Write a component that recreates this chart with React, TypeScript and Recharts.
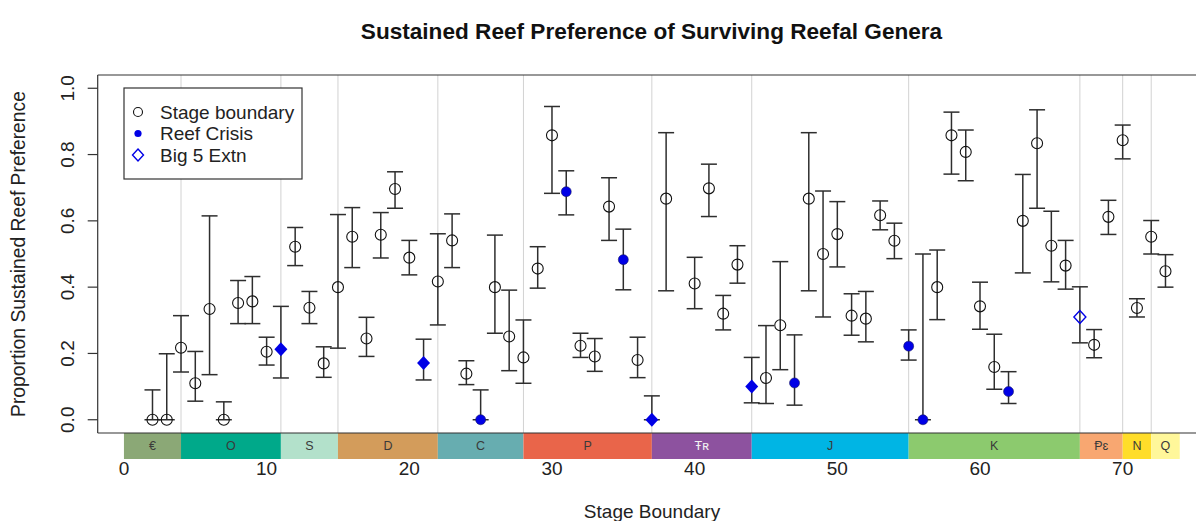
import React from 'react';
import { ComposedChart, Scatter, XAxis, YAxis, ErrorBar, ReferenceLine, ReferenceArea } from 'recharts';

const stageX = [2, 3, 4, 5, 6, 7, 8, 9, 10, 11, 12, 13, 14, 15, 16, 17, 18, 19, 20, 21, 22, 23, 24, 25, 26, 27, 28, 29, 30, 31, 32, 33, 34, 35, 36, 37, 38, 40, 41, 42, 43, 44, 45, 46, 47, 48, 49, 50, 51, 52, 53, 54, 55, 56, 57, 58, 59, 60, 61, 62, 63, 64, 65, 66, 67, 68, 69, 70, 71, 72, 73];
const preference = [0, 0, 0.217, 0.11, 0.334, 0, 0.352, 0.357, 0.205, 0.213, 0.522, 0.338, 0.17, 0.4, 0.552, 0.245, 0.558, 0.696, 0.489, 0.171, 0.417, 0.541, 0.139, 0, 0.4, 0.251, 0.188, 0.456, 0.858, 0.688, 0.223, 0.191, 0.643, 0.483, 0.18, 0, 0.667, 0.411, 0.698, 0.32, 0.468, 0.1, 0.126, 0.285, 0.111, 0.667, 0.5, 0.56, 0.314, 0.305, 0.617, 0.54, 0.222, 0, 0.4, 0.858, 0.808, 0.342, 0.159, 0.085, 0.6, 0.834, 0.525, 0.465, 0.31, 0.226, 0.612, 0.843, 0.337, 0.552, 0.448];
const lowerCI = [0, 0, 0.144, 0.056, 0.136, 0, 0.29, 0.29, 0.165, 0.126, 0.465, 0.29, 0.128, 0.216, 0.459, 0.191, 0.488, 0.638, 0.437, 0.12, 0.286, 0.459, 0.106, 0, 0.261, 0.148, 0.11, 0.397, 0.683, 0.618, 0.188, 0.146, 0.541, 0.392, 0.127, 0, 0.389, 0.335, 0.613, 0.271, 0.412, 0.051, 0.049, 0.151, 0.044, 0.389, 0.31, 0.461, 0.255, 0.235, 0.573, 0.486, 0.18, 0, 0.302, 0.741, 0.721, 0.273, 0.092, 0.049, 0.443, 0.638, 0.416, 0.394, 0.232, 0.187, 0.559, 0.787, 0.31, 0.5, 0.4];
const upperCI = [0.09, 0.199, 0.314, 0.206, 0.615, 0.054, 0.42, 0.432, 0.249, 0.342, 0.58, 0.387, 0.22, 0.619, 0.64, 0.309, 0.625, 0.748, 0.541, 0.243, 0.561, 0.621, 0.178, 0.09, 0.557, 0.391, 0.301, 0.522, 0.945, 0.751, 0.261, 0.245, 0.73, 0.575, 0.249, 0.072, 0.866, 0.49, 0.771, 0.375, 0.525, 0.188, 0.284, 0.477, 0.256, 0.866, 0.69, 0.658, 0.38, 0.387, 0.66, 0.593, 0.271, 0.5, 0.512, 0.928, 0.874, 0.415, 0.258, 0.145, 0.74, 0.935, 0.629, 0.541, 0.401, 0.272, 0.662, 0.889, 0.365, 0.601, 0.498];
const reefCrisisX = [11, 21, 25, 31, 35, 37, 44, 47, 55, 56, 62];
const bigFiveX = [11, 21, 37, 44, 67];

const periodNames = ['€', 'O', 'S', 'D', 'C', 'P', 'Ŧʀ', 'J', 'K', 'Ᵽɛ', 'N', 'Q'];
const periodStart = [0, 4, 11, 15, 22, 28, 37, 44, 55, 67, 70, 72];
const periodEnd = [4, 11, 15, 22, 28, 37, 44, 55, 67, 70, 72, 74];
const periodColors = ['#8BA876', '#00A98A', '#B3E1CB', '#D39C5B', '#67ADB0', '#E9654A', '#8D529F', '#00B5E4', '#8CCA6E', '#F8A771', '#FFDD2A', '#FFF79A'];
const periodTextColors = ['#3a3a3a', '#3a3a3a', '#3a3a3a', '#3a3a3a', '#3a3a3a', '#3a3a3a', '#f2f2f2', '#3a3a3a', '#3a3a3a', '#3a3a3a', '#3a3a3a', '#3a3a3a'];
const boundaryLines = [4, 11, 15, 22, 28, 37, 44, 55, 67, 70, 72];
const xTicks = [0, 10, 20, 30, 40, 50, 60, 70];
const yTicks = [0, 0.2, 0.4, 0.6, 0.8, 1.0];

const FONT = '"Liberation Sans", Arial, Helvetica, sans-serif';
const BLUE = '#0000E6';
const INK = '#333333';

const rows = stageX.map((x, i) => ({
  x,
  y: preference[i],
  err: [preference[i] - lowerCI[i], upperCI[i] - preference[i]],
  crisis: reefCrisisX.includes(x),
  big5: bigFiveX.includes(x),
}));
const stageOnly = rows.filter(r => !r.crisis && !r.big5);
const crisisOnly = rows.filter(r => r.crisis && !r.big5);
const crisisBig5 = rows.filter(r => r.crisis && r.big5);
const big5Only = rows.filter(r => !r.crisis && r.big5);

const OpenCircle = (p: any) => <circle cx={p.cx} cy={p.cy} r={5.5} fill="none" stroke="#111" strokeWidth={1.1} />;
const FilledCircle = (p: any) => <circle cx={p.cx} cy={p.cy} r={5} fill={BLUE} stroke="#1a1a66" strokeWidth={0.6} />;
const FilledDiamond = (p: any) => (
  <polygon points={`${p.cx},${p.cy - 7} ${p.cx + 6.5},${p.cy} ${p.cx},${p.cy + 7} ${p.cx - 6.5},${p.cy}`} fill={BLUE} />
);
const OpenDiamond = (p: any) => (
  <polygon points={`${p.cx},${p.cy - 6.5} ${p.cx + 6},${p.cy} ${p.cx},${p.cy + 6.5} ${p.cx - 6},${p.cy}`} fill="none" stroke={BLUE} strokeWidth={1.4} />
);
const NoMark = () => <g />;

const XTick = (p: any) => (
  <text x={p.x} y={475} textAnchor="middle" fontSize={19} fontFamily={FONT} fill="#222">{p.payload.value}</text>
);
const YTick = (p: any) => (
  <text x={74} y={p.y} transform={`rotate(-90 74 ${p.y})`} textAnchor="middle" fontSize={19} fontFamily={FONT} fill="#222">
    {Number(p.payload.value).toFixed(1)}
  </text>
);

const PeriodText = (p: any) => {
  const vb = p.viewBox || {};
  const cx = vb.x + vb.width / 2;
  const cy = vb.y + vb.height / 2 + 4.5;
  return (
    <text x={cx} y={cy} textAnchor="middle" fontSize={12.5} fontFamily={FONT} fill={p.color}>{p.name}</text>
  );
};

export default function App() {
  return (
    <div style={{ position: 'absolute', left: 0, top: 0, width: 1196, height: 521, overflow: 'hidden', background: '#fff' }}>
      <ComposedChart width={1220} height={521} margin={{ top: 75, right: 14, bottom: 0, left: 37.7 }}>
        <XAxis
          type="number"
          dataKey="x"
          domain={[-1.84, 75.84]}
          ticks={xTicks}
          interval={0}
          allowDataOverflow
          axisLine={false}
          tickLine={false}
          height={88}
          tick={XTick}
        />
        <YAxis
          type="number"
          dataKey="y"
          domain={[-0.04, 1.04]}
          ticks={yTicks}
          interval={0}
          allowDataOverflow
          width={60}
          tickSize={10}
          axisLine={{ stroke: INK, strokeWidth: 1.2 }}
          tickLine={{ stroke: INK, strokeWidth: 1.2 }}
          tick={YTick}
        />
        {boundaryLines.map(b => (
          <ReferenceLine key={'b' + b} x={b} stroke="#d2d2d2" strokeWidth={1} />
        ))}
        {periodNames.map((n, i) => (
          <ReferenceArea
            key={'p' + i}
            x1={periodStart[i]}
            x2={periodEnd[i]}
            y1={-0.1184}
            y2={-0.04}
            ifOverflow="visible"
            fill={periodColors[i]}
            fillOpacity={1}
            stroke="none"
            label={<PeriodText name={n} color={periodTextColors[i]} />}
          />
        ))}
        <ReferenceLine y={1.04} stroke={INK} strokeWidth={1.2} />
        <ReferenceLine y={-0.04} stroke={INK} strokeWidth={1.2} />
        <Scatter data={stageOnly} shape={OpenCircle} isAnimationActive={false} />
        <Scatter data={crisisOnly} shape={FilledCircle} isAnimationActive={false} />
        <Scatter data={crisisBig5} shape={FilledDiamond} isAnimationActive={false} />
        <Scatter data={big5Only} shape={OpenDiamond} isAnimationActive={false} />
        <Scatter data={rows} shape={NoMark} isAnimationActive={false}>
          <ErrorBar dataKey="err" direction="y" width={8} stroke="#2e2e2e" strokeWidth={1.5} isAnimationActive={false} />
        </Scatter>
      </ComposedChart>
      <svg width={1196} height={521} style={{ position: 'absolute', left: 0, top: 0, pointerEvents: 'none' }} fontFamily={FONT}>
        <text x={651.5} y={39} textAnchor="middle" fontSize={22.6} fontWeight="bold" fill="#111">
          Sustained Reef Preference of Surviving Reefal Genera
        </text>
        <text x={25} y={254} transform="rotate(-90 25 254)" textAnchor="middle" fontSize={19.3} fill="#222">
          Proportion Sustained Reef Preference
        </text>
        <text x={652} y={518} textAnchor="middle" fontSize={19} fill="#222">Stage Boundary</text>
        <g>
          <rect x={124} y={88} width={178} height={91} fill="#fff" stroke={INK} strokeWidth={1.2} />
          <circle cx={138} cy={112} r={4.5} fill="none" stroke="#111" strokeWidth={1.1} />
          <text x={160} y={118.5} fontSize={19} fill="#222">Stage boundary</text>
          <circle cx={138} cy={133.5} r={3.6} fill={BLUE} />
          <text x={160} y={140} fontSize={19} fill="#222">Reef Crisis</text>
          <polygon points="138,149 143.5,155 138,161 132.5,155" fill="none" stroke={BLUE} strokeWidth={1.4} />
          <text x={160} y={161.5} fontSize={19} fill="#222">Big 5 Extn</text>
        </g>
      </svg>
    </div>
  );
}
